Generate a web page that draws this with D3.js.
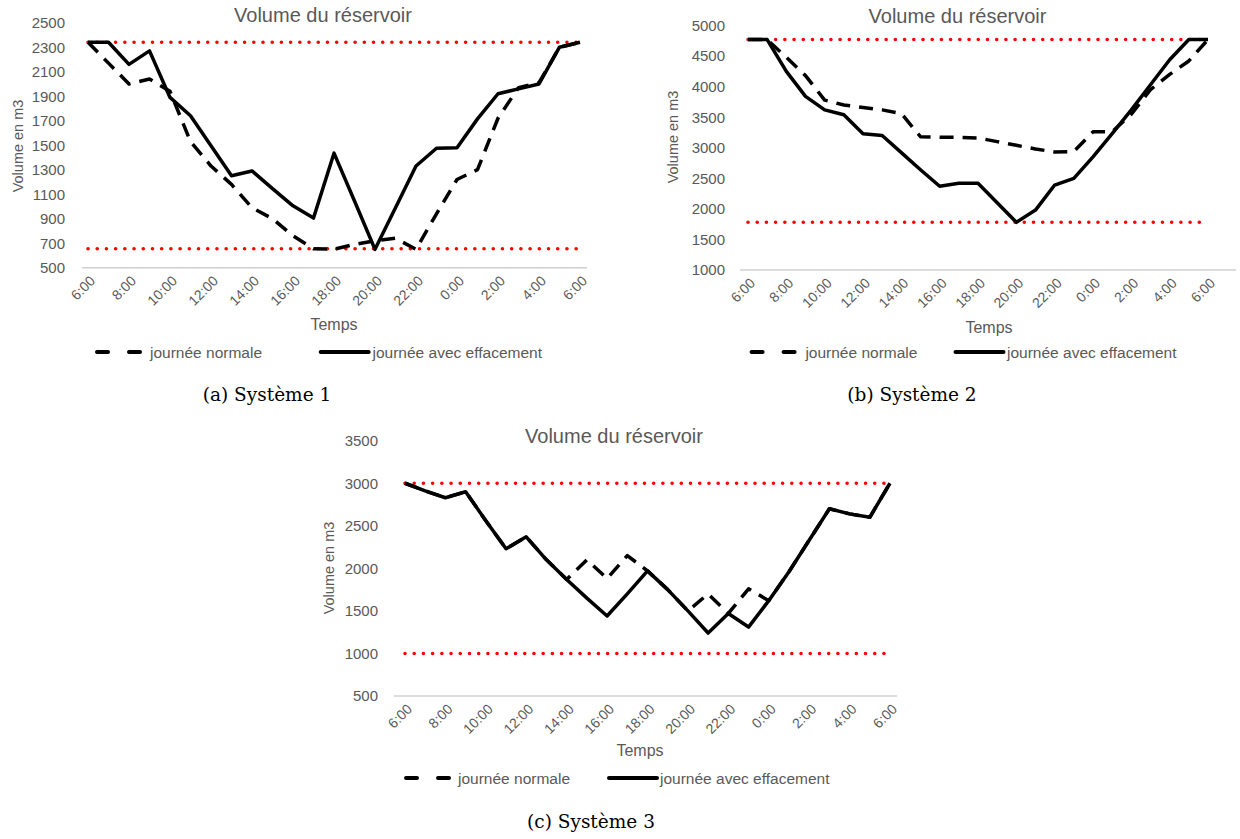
<!DOCTYPE html>
<html>
<head>
<meta charset="utf-8">
<script src="https://cdn.jsdelivr.net/npm/d3@7"></script>
<style>
  body { margin: 0; background: #ffffff; }
  svg { display: block; }
</style>
</head>
<body>
<svg id="fig" width="1240" height="839"></svg>
<script>
// Hourly categories over one day, 6:00 to 6:00
const hours = ["6:00","7:00","8:00","9:00","10:00","11:00","12:00","13:00","14:00","15:00","16:00","17:00",
               "18:00","19:00","20:00","21:00","22:00","23:00","0:00","1:00","2:00","3:00","4:00","5:00","6:00"];
const labelStep = 2;

const seriesNames = ["journée normale", "journée avec effacement"];

// Système 1
const sys1Normal     = [2340, 2170, 2000, 2040, 1940, 1530, 1330, 1180, 990, 900, 760, 655, 650, 690, 720, 740, 650, 940, 1220, 1300, 1720, 1970, 2010, 2300, 2340];
const sys1Effacement = [2340, 2340, 2160, 2270, 1890, 1740, 1495, 1250, 1290, 1145, 1005, 905, 1435, 1045, 650, 990, 1330, 1475, 1480, 1715, 1920, 1960, 2000, 2300, 2340];
const sys1Limits     = [655, 2340];
const sys1Ticks      = [500, 700, 900, 1100, 1300, 1500, 1700, 1900, 2100, 2300, 2500];

// Système 2
const sys2Normal     = [4770, 4770, 4480, 4180, 3780, 3700, 3660, 3620, 3560, 3180, 3170, 3170, 3160, 3100, 3040, 2980, 2930, 2940, 3260, 3260, 3550, 3950, 4200, 4420, 4770];
const sys2Effacement = [4770, 4770, 4250, 3840, 3620, 3540, 3230, 3200, 2920, 2640, 2370, 2420, 2420, 2100, 1780, 1980, 2390, 2500, 2850, 3230, 3620, 4030, 4440, 4770, 4770];
const sys2Limits     = [1780, 4770];
const sys2Ticks      = [1000, 1500, 2000, 2500, 3000, 3500, 4000, 4500, 5000];

// Système 3
const sys3Normal     = [3000, 2910, 2830, 2900, 2560, 2230, 2370, 2100, 1870, 2100, 1880, 2150, 1970, 1750, 1500, 1700, 1470, 1760, 1620, 1960, 2330, 2700, 2640, 2600, 3000];
const sys3Effacement = [3000, 2910, 2830, 2900, 2560, 2230, 2370, 2100, 1870, 1650, 1440, 1700, 1970, 1750, 1500, 1240, 1470, 1310, 1620, 1960, 2330, 2700, 2640, 2600, 3000];
const sys3Limits     = [1000, 3000];
const sys3Ticks      = [500, 1000, 1500, 2000, 2500, 3000, 3500];

const captions = ["(a) Système 1", "(b) Système 2", "(c) Système 3"];

// Panel placement on the page
const panels = [
  { normal: sys1Normal, eff: sys1Effacement, limits: sys1Limits, ticks: sys1Ticks, caption: captions[0],
    px: [88, 580], py: [267.7, 22.7], axisX: [82, 587], tickX: 65,
    yTitle: [18, 146], title: [323, 21.5], temps: [334, 330],
    legY: 352, legDash: 95, legText1: 150, legSolid: 318.7, legText2: 372.5, cap: [267, 401] },
  { normal: sys2Normal, eff: sys2Effacement, limits: sys2Limits, ticks: sys2Ticks, caption: captions[1],
    px: [748, 1208], py: [270, 25.5], axisX: [740, 1236], tickX: 725,
    yTitle: [673, 137], title: [957.5, 23.3], temps: [989, 333],
    legY: 352, legDash: 749.6, legText1: 805.4, legSolid: 953.5, legText2: 1007, cap: [912, 401] },
  { normal: sys3Normal, eff: sys3Effacement, limits: sys3Limits, ticks: sys3Ticks, caption: captions[2],
    px: [405, 890], py: [696, 440.7], axisX: [394, 897], tickX: 378,
    yTitle: [329, 568], title: [614, 443.3], temps: [640, 755.5],
    legY: 778, legDash: 404, legText1: 458, legSolid: 607, legText2: 660, cap: [591, 828] }
];

const svg = d3.select("#fig");
const FONT = "'Liberation Sans', Arial, sans-serif";
const GREY = "#595959";

function drawPanel(p) {
  const g = svg.append("g");
  const ticks = p.ticks;
  const x = d3.scaleLinear().domain([0, hours.length - 1]).range(p.px);
  const y = d3.scaleLinear().domain([ticks[0], ticks[ticks.length - 1]]).range(p.py);

  // Title
  g.append("text").attr("x", p.title[0]).attr("y", p.title[1])
    .attr("text-anchor", "middle").attr("font-family", FONT).attr("font-size", 20)
    .attr("fill", GREY).text("Volume du réservoir");

  // Y axis labels
  const yAxis = d3.axisLeft(y).tickValues(ticks).tickSize(0).tickPadding(0).tickFormat(d3.format("d"));
  const ya = g.append("g").attr("transform", `translate(${p.tickX},0)`).call(yAxis);
  ya.select(".domain").remove();
  ya.selectAll("text").attr("font-family", FONT).attr("font-size", 15).attr("fill", GREY);

  // Horizontal category axis line
  const base = y(ticks[0]);
  g.append("line").attr("x1", p.axisX[0]).attr("x2", p.axisX[1])
    .attr("y1", base).attr("y2", base).attr("stroke", "#d0d0d0").attr("stroke-width", 1.5);

  // X axis labels, every second hour, rotated
  const labelIdx = d3.range(0, hours.length, labelStep);
  g.append("g").selectAll("text").data(labelIdx).join("text")
    .attr("transform", i => `translate(${x(i) + 8},${base + 14}) rotate(-45)`)
    .attr("text-anchor", "end").attr("font-family", FONT).attr("font-size", 14)
    .attr("fill", GREY).text(i => hours[i]);

  // Axis titles
  g.append("text").attr("transform", `translate(${p.yTitle[0]},${p.yTitle[1]}) rotate(-90)`)
    .attr("text-anchor", "middle").attr("dominant-baseline", "central")
    .attr("font-family", FONT).attr("font-size", 14.5).attr("fill", GREY).text("Volume en m3");
  g.append("text").attr("x", p.temps[0]).attr("y", p.temps[1])
    .attr("text-anchor", "middle").attr("font-family", FONT).attr("font-size", 16)
    .attr("fill", GREY).text("Temps");

  // Min / max volume limits (red dotted)
  g.append("g").selectAll("line").data(p.limits).join("line")
    .attr("x1", x(0)).attr("x2", x(hours.length - 1))
    .attr("y1", d => y(d)).attr("y2", d => y(d))
    .attr("stroke", "#ff0000").attr("stroke-width", 3.6)
    .attr("stroke-linecap", "round").attr("stroke-dasharray", "0.01 9.2");

  const line = d3.line().x((d, i) => x(i)).y(d => y(d));

  g.append("path").datum(p.normal).attr("d", line)
    .attr("fill", "none").attr("stroke", "#000").attr("stroke-width", 3.5)
    .attr("stroke-dasharray", "14 9").attr("stroke-linejoin", "round");
  g.append("path").datum(p.eff).attr("d", line)
    .attr("fill", "none").attr("stroke", "#000").attr("stroke-width", 3.5)
    .attr("stroke-linejoin", "round");

  // Legend
  g.append("line").attr("x1", p.legDash + 2).attr("x2", p.legDash + 47)
    .attr("y1", p.legY).attr("y2", p.legY)
    .attr("stroke", "#000").attr("stroke-width", 4).attr("stroke-linecap", "round")
    .attr("stroke-dasharray", "11 21");
  g.append("text").attr("x", p.legText1).attr("y", p.legY).attr("dominant-baseline", "central")
    .attr("font-family", FONT).attr("font-size", 15.5).attr("fill", GREY).text(seriesNames[0]);
  g.append("line").attr("x1", p.legSolid + 2).attr("x2", p.legSolid + 50)
    .attr("y1", p.legY).attr("y2", p.legY)
    .attr("stroke", "#000").attr("stroke-width", 4).attr("stroke-linecap", "round");
  g.append("text").attr("x", p.legText2).attr("y", p.legY).attr("dominant-baseline", "central")
    .attr("font-family", FONT).attr("font-size", 15.5).attr("fill", GREY).text(seriesNames[1]);

  // Sub-figure caption
  g.append("text").attr("x", p.cap[0]).attr("y", p.cap[1]).attr("text-anchor", "middle")
    .attr("font-family", "'DejaVu Serif', serif").attr("font-size", 18.5).attr("fill", "#000")
    .text(p.caption);
}

panels.forEach(drawPanel);
</script>
</body>
</html>
